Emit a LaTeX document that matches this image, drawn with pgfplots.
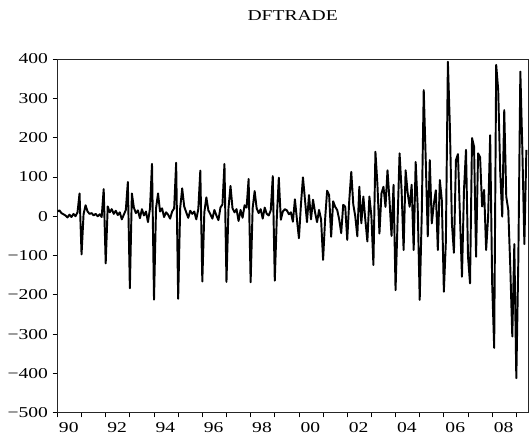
\documentclass[border=0pt]{standalone}
\usepackage{fontspec}
\setmainfont{Liberation Serif}[FakeStretch=1.3]
\usepackage{pgfplots}
\pgfplotsset{compat=1.18}
\begin{document}
\begin{tikzpicture}
\begin{axis}[
  name=ax,
  width=352.95pt, height=265.35pt, scale only axis,
  xmin=0, xmax=233.8, ymin=-500, ymax=400,
  axis line style={line width=0.6pt, black!85},
  xtick={0,12,...,228},
  xticklabels={90,,92,,94,,96,,98,,00,,02,,04,,06,,08,},
  ytick={-500,-400,...,400},
  yticklabels={−500,−400,−300,−200,−100,0,100,200,300,400},
  tick align=outside, xtick pos=bottom, ytick pos=left,
  major tick length=3.5pt,
  tick style={line width=0.6pt, black},
  ticklabel style={font=\fontsize{11.3}{13}\selectfont},
  xticklabel style={anchor=north west, inner sep=0pt, xshift=1pt, yshift=-3.8pt},
  title={DFTRADE},
  title style={at={(0.5,1)}, anchor=base, yshift=22.5pt, font=\fontsize{11.3}{13}\selectfont},
]
% monthly values, t = months since 1990M1
\addplot[black, line width=1.45pt, line join=round] coordinates {
(0,12) (1,15) (2,8) (3,5) (4,2) (5,-3) (6,4) (7,-2) (8,6) (9,0) (10,10) (11,58)
(12,-97) (13,5) (14,28) (15,12) (16,6) (17,8) (18,2) (19,6) (20,0) (21,5) (22,-2) (23,69)
(24,-120) (25,25) (26,10) (27,18) (28,6) (29,14) (30,3) (31,10) (32,-8) (33,4) (34,16) (35,87)
(36,-183) (37,58) (38,22) (39,8) (40,15) (41,-5) (42,18) (43,2) (44,12) (45,-15) (46,20) (47,133)
(48,-212) (49,20) (50,58) (51,12) (52,20) (53,-2) (54,10) (55,4) (56,-6) (57,12) (58,20) (59,136)
(60,-210) (61,20) (62,71) (63,25) (64,10) (65,-4) (66,14) (67,6) (68,12) (69,-8) (70,18) (71,116)
(72,-166) (73,10) (74,48) (75,15) (76,5) (77,-6) (78,16) (79,2) (80,-10) (81,22) (82,30) (83,133)
(84,-167) (85,20) (86,77) (87,20) (88,10) (89,18) (90,-12) (91,16) (92,-4) (93,28) (94,22) (95,95)
(96,-168) (97,20) (98,64) (99,20) (100,8) (101,18) (102,-6) (103,22) (104,6) (105,2) (106,15) (107,102)
(108,-164) (109,-5) (110,98) (111,-9) (112,12) (113,18) (114,15) (115,5) (116,10) (117,-14) (118,43) (119,-8)
(120,-56) (121,30) (122,99) (123,42) (124,-15) (125,54) (126,-8) (127,42) (128,10) (129,-15) (130,16) (131,-8)
(132,-111) (133,-8) (134,65) (135,54) (136,-52) (137,38) (138,24) (139,16) (140,-8) (141,-43) (142,29) (143,24)
(144,-60) (145,40) (146,113) (147,30) (148,-1) (149,-51) (150,75) (151,-18) (152,50) (153,-10) (154,-64) (155,50)
(156,0) (157,-124) (158,164) (159,80) (160,-44) (161,58) (162,75) (163,24) (164,117) (165,40) (166,-50) (167,80)
(168,-188) (169,-14) (170,160) (171,66) (172,-86) (173,117) (174,60) (175,24) (176,80) (177,-86) (178,138) (179,24)
(180,-213) (181,0) (182,321) (183,143) (184,-51) (185,143) (186,-18) (187,30) (188,66) (189,-86) (190,92) (191,40)
(192,-192) (193,-64) (194,393) (195,227) (196,-18) (197,-93) (198,143) (199,158) (200,0) (201,-154) (202,67) (203,169)
(204,-103) (205,-171) (206,199) (207,177) (208,-103) (209,160) (210,150) (211,25) (212,67) (213,-86) (214,-1) (215,206)
(216,-171) (217,-335) (218,385) (219,321) (220,113) (221,-1) (222,270) (223,50) (224,16) (225,-129) (226,-306) (227,-71)
(228,-412) (229,-110) (230,368) (231,169) (232,-71) (233,169)
};
\end{axis}
\pgfresetboundingbox
\path ([shift={(-43.05pt,-18.9pt)}]ax.south west) rectangle ([shift={(1.5pt,44.25pt)}]ax.north east);
\end{tikzpicture}
\end{document}
